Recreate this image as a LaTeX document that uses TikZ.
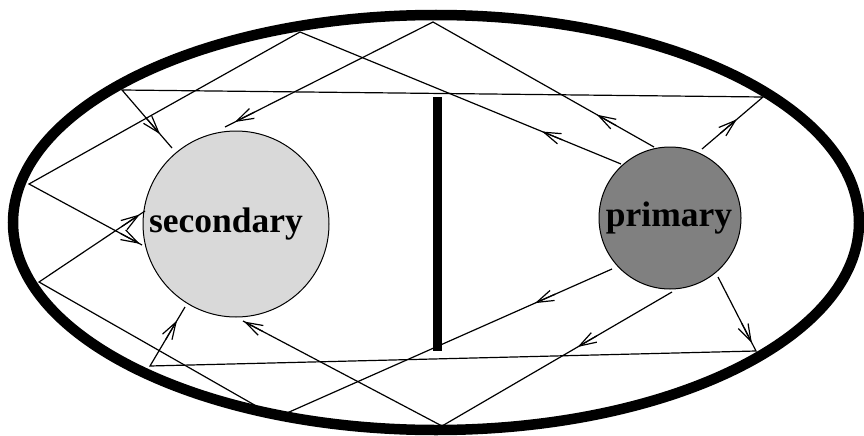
\documentclass[tikz,border=0pt]{standalone}
\usepackage{fontspec}
\setmainfont{Liberation Serif}
\usetikzlibrary{arrows.meta,calc}
\definecolor{secfill}{RGB}{217,217,217}
\definecolor{prifill}{RGB}{128,128,128}
\begin{document}
\begin{tikzpicture}[x=1pt,y=-1pt,
  ray/.style={line width=1.2pt, line join=miter},
  arr/.style={line width=1.2pt, -{Straight Barb[length=17pt,width=11pt]}},
  wall/.style={line width=10.5pt},
  body/.style={circle, draw, line width=1pt, inner sep=0pt},
  lbl/.style={font=\fontsize{35.5}{36}\selectfont\bfseries, inner sep=0pt, anchor=base}]
\useasboundingbox (0,0) rectangle (864,436);
% enclosure and barrier
\draw[wall] (436,222.5) ellipse [x radius=423pt, y radius=207.5pt];
\fill (432.5,97) rectangle (441.5,351);
% bodies
\node[body, fill=secfill, minimum size=186pt] (sec) at (236,224) {};
\node[body, fill=prifill, minimum size=142pt] (pri) at (670,218) {};
\node[lbl] (seclbl) at (226,232) {secondary};
\node[lbl] (prilbl) at (669,226) {primary};
% ray points
\coordinate (pA) at (654,147); \coordinate (wA) at (433,22); \coordinate (eA) at (225,127);
\coordinate (pB) at (621,164); \coordinate (wB1) at (300,32); \coordinate (wB2) at (29,184); \coordinate (eB) at (142,245);
\coordinate (pC) at (702,149); \coordinate (wC1) at (763,97); \coordinate (wC2) at (122,90); \coordinate (eC) at (172,148);
\coordinate (pD) at (612,269); \coordinate (wD1) at (287,413); \coordinate (wD2) at (258,407); \coordinate (wD3) at (39,282); \coordinate (eD) at (145,211);
\coordinate (pE) at (672,292); \coordinate (wE) at (442,426); \coordinate (eE) at (243,321);
\coordinate (pF) at (718,277); \coordinate (wF1) at (756,351); \coordinate (wF2) at (150,366); \coordinate (eF) at (185,307);
% rays
\draw[ray] (pA) -- (wA) -- (eA);
\draw[ray] (pB) -- (wB1) -- (wB2) -- (eB);
\draw[ray] (pC) -- (wC1) -- (wC2) -- (eC);
\draw[ray] (pD) -- (wD1) -- (wD2) -- (wD3) -- (eD);
\draw[ray] (pE) -- (wE) -- (eE);
\draw[ray] (pF) -- (wF1) -- (wF2) -- (eF);
% arrow tips
\coordinate (tA1) at ($(pA)!0.258!(wA)$); \coordinate (tA2) at ($(wA)!0.952!(eA)$);
\coordinate (tB1) at ($(pB)!0.246!(wB1)$); \coordinate (tB2) at ($(wB2)!0.98!(eB)$);
\coordinate (tC1) at ($(pC)!0.57!(wC1)$); \coordinate (tC2) at ($(wC2)!0.76!(eC)$);
\coordinate (tD1) at ($(pD)!0.237!(wD1)$); \coordinate (tD2) at ($(wD3)!0.95!(eD)$);
\coordinate (tE1) at ($(pE)!0.41!(wE)$); \coordinate (tE2) at ($(wE)!0.995!(eE)$);
\coordinate (tF1) at ($(pF)!0.89!(wF1)$); \coordinate (tF2) at ($(wF2)!0.77!(eF)$);
\draw[arr] ($(tA1)!22pt!(pA)$) -- (tA1);
\draw[arr] ($(tA2)!22pt!(wA)$) -- (tA2);
\draw[arr] ($(tB1)!22pt!(pB)$) -- (tB1);
\draw[arr] ($(tB2)!22pt!(wB2)$) -- (tB2);
\draw[arr] ($(tC1)!22pt!(pC)$) -- (tC1);
\draw[arr] ($(tC2)!22pt!(wC2)$) -- (tC2);
\draw[arr] ($(tD1)!22pt!(pD)$) -- (tD1);
\draw[arr] ($(tD2)!22pt!(wD3)$) -- (tD2);
\draw[arr] ($(tE1)!22pt!(pE)$) -- (tE1);
\draw[arr] ($(tE2)!22pt!(wE)$) -- (tE2);
\draw[arr] ($(tF1)!22pt!(pF)$) -- (tF1);
\draw[arr] ($(tF2)!22pt!(wF2)$) -- (tF2);
\end{tikzpicture}
\end{document}
